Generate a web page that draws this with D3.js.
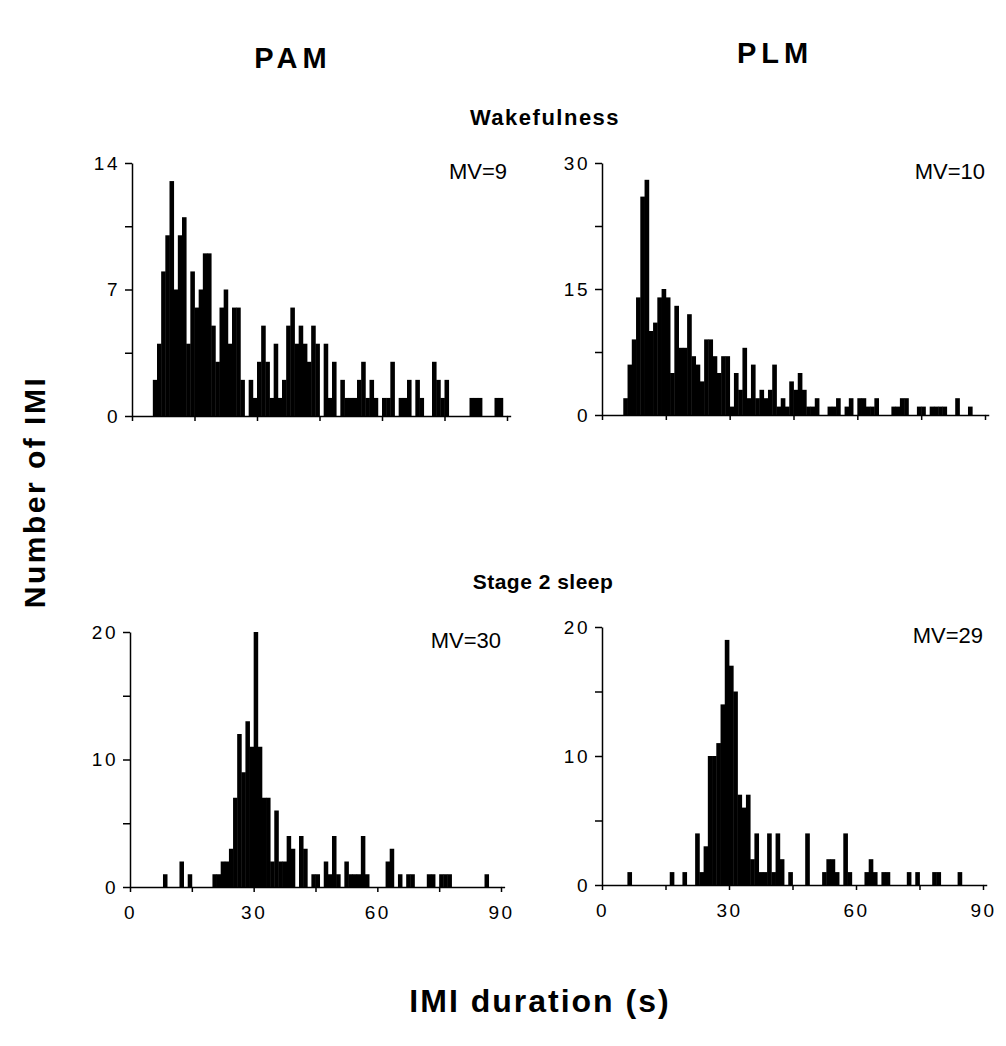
<!DOCTYPE html>
<html>
<head>
<meta charset="utf-8">
<script src="https://cdn.jsdelivr.net/npm/d3@7"></script>
<style>
  body { margin: 0; background: #fff; }
  text { font-family: "Liberation Sans", Arial, sans-serif; fill: #000; }
</style>
</head>
<body>
<div id="chart"></div>
<script>
// counts per 1 s bin, bins 0..89 s
var pamWake = [
  0, 0, 0, 0, 0, 2, 4, 8, 10, 13,
  7, 10, 11, 4, 8, 6, 7, 9, 9, 5,
  3, 6, 7, 4, 6, 6, 2, 0, 2, 1,
  3, 5, 3, 1, 4, 1, 2, 5, 6, 4,
  5, 4, 3, 5, 4, 0, 4, 1, 3, 0,
  2, 1, 1, 1, 2, 3, 1, 2, 1, 0,
  1, 1, 3, 0, 1, 1, 2, 0, 2, 1,
  0, 0, 3, 2, 1, 2, 0, 0, 0, 0,
  0, 1, 1, 1, 0, 0, 0, 1, 1, 0
];
var plmWake = [
  0, 0, 0, 0, 0, 2, 6, 9, 14, 26,
  28, 10, 11, 14, 15, 14, 5, 13, 8, 8,
  12, 7, 6, 4, 9, 9, 7, 5, 7, 7,
  1, 5, 3, 8, 2, 6, 2, 3, 2, 3,
  6, 1, 2, 1, 4, 3, 5, 3, 1, 1,
  2, 0, 0, 1, 1, 2, 0, 1, 2, 0,
  2, 2, 1, 1, 2, 0, 0, 0, 1, 1,
  2, 2, 0, 0, 1, 1, 0, 1, 1, 1,
  1, 0, 0, 2, 0, 0, 1, 0, 0, 0
];
var pamStage2 = [
  0, 0, 0, 0, 0, 0, 0, 0, 1, 0,
  0, 0, 2, 0, 1, 0, 0, 0, 0, 0,
  1, 1, 2, 2, 3, 7, 12, 9, 13, 11,
  20, 11, 7, 7, 2, 6, 2, 2, 4, 3,
  0, 4, 3, 0, 1, 1, 0, 2, 1, 4,
  1, 0, 2, 1, 1, 1, 4, 1, 0, 0,
  0, 0, 2, 3, 0, 1, 0, 1, 1, 0,
  0, 0, 1, 1, 0, 1, 1, 1, 0, 0,
  0, 0, 0, 0, 0, 0, 1, 0, 0, 0
];
var plmStage2 = [
  0, 0, 0, 0, 0, 0, 1, 0, 0, 0,
  0, 0, 0, 0, 0, 0, 1, 0, 0, 1,
  0, 0, 4, 1, 3, 10, 10, 11, 14, 19,
  17, 15, 7, 6, 7, 2, 4, 1, 1, 4,
  1, 4, 2, 0, 1, 0, 0, 0, 4, 0,
  0, 0, 1, 2, 2, 1, 0, 4, 1, 0,
  0, 0, 1, 2, 1, 0, 1, 1, 0, 0,
  0, 0, 1, 0, 1, 0, 0, 0, 1, 1,
  0, 0, 0, 0, 1, 0, 0, 0, 0, 0
];

var xTicks = [0, 15, 30, 45, 60, 75, 90];
var xTickLabels = [0, 30, 60, 90];
var mvLabels = ["MV=9", "MV=10", "MV=30", "MV=29"];
var yMaxes = [14, 30, 20, 20];
var groupTitles = ["PAM", "PLM"];
var stateTitles = ["Wakefulness", "Stage 2 sleep"];

var width = 1006;
var height = 1046;

var svg = d3.select("#chart")
  .append("svg")
  .attr("width", width)
  .attr("height", height);

// panel frames (pixel layout)
var panels = [
  { data: pamWake,   left: 132, right: 507, top: 163, bottom: 416, showX: false },
  { data: plmWake,   left: 602, right: 985, top: 163, bottom: 415, showX: false },
  { data: pamStage2, left: 130, right: 501, top: 632, bottom: 887, showX: true },
  { data: plmStage2, left: 602, right: 983, top: 627, bottom: 885, showX: true }
];

panels.forEach(function(p, i) {
  var yMax = yMaxes[i];
  var x = d3.scaleLinear().domain([0, 90]).range([p.left, p.right]);
  var y = d3.scaleLinear().domain([0, yMax]).range([p.bottom, p.top]);

  var g = svg.append("g");

  // bars
  g.selectAll("rect")
    .data(p.data.map(function(v, s) { return { s: s, v: v }; })
      .filter(function(d) { return d.v > 0; }))
    .enter().append("rect")
    .attr("x", function(d) { return x(d.s); })
    .attr("width", function(d) { return x(d.s + 1) - x(d.s) + 0.4; })
    .attr("y", function(d) { return y(d.v); })
    .attr("height", function(d) { return y(0) - y(d.v); })
    .attr("fill", "#000");

  // y axis
  var yAxis = d3.axisLeft(y)
    .tickValues([0, yMax / 4, yMax / 2, yMax * 3 / 4, yMax])
    .tickSize(7)
    .tickSizeOuter(0)
    .tickPadding(5)
    .tickFormat(function(d) {
      return (d === 0 || d === yMax / 2 || d === yMax) ? d : "";
    });

  var ya = g.append("g")
    .attr("transform", "translate(" + p.left + ",0)")
    .call(yAxis);
  ya.selectAll("text")
    .style("font-size", "19px")
    .style("letter-spacing", "2.5px")
    .style("font-family", "'Liberation Sans', Arial, sans-serif");

  // x axis
  var xAxis = d3.axisBottom(x)
    .tickValues(xTicks)
    .tickSize(5)
    .tickSizeOuter(0)
    .tickPadding(14)
    .tickFormat(function(d) {
      return (p.showX && xTickLabels.indexOf(d) >= 0) ? d : "";
    });

  var xa = g.append("g")
    .attr("transform", "translate(0," + p.bottom + ")")
    .call(xAxis);
  xa.selectAll("text")
    .style("font-size", "19px")
    .style("letter-spacing", "2.5px")
    .style("font-family", "'Liberation Sans', Arial, sans-serif");

  // baseline runs a little past 90 s
  g.append("line")
    .attr("x1", x(90)).attr("x2", x(91))
    .attr("y1", p.bottom + 0.5).attr("y2", p.bottom + 0.5)
    .attr("stroke", "#000")
    .attr("stroke-width", 1.5);

  g.selectAll(".domain, .tick line").attr("stroke", "#000").attr("stroke-width", 1.5);

  g.append("text")
    .attr("x", x(90))
    .attr("y", p.top + 16)
    .attr("text-anchor", "end")
    .style("font-size", "22px")
    .text(mvLabels[i]);
});

// titles
svg.append("text")
  .attr("x", 293).attr("y", 68)
  .attr("text-anchor", "middle")
  .style("font-size", "29px").style("font-weight", "bold").style("letter-spacing", "5px")
  .text(groupTitles[0]);

svg.append("text")
  .attr("x", 775).attr("y", 63)
  .attr("text-anchor", "middle")
  .style("font-size", "29px").style("font-weight", "bold").style("letter-spacing", "5px")
  .text(groupTitles[1]);

svg.append("text")
  .attr("x", 545).attr("y", 125)
  .attr("text-anchor", "middle")
  .style("font-size", "22px").style("font-weight", "bold").style("letter-spacing", "1.5px")
  .text(stateTitles[0]);

svg.append("text")
  .attr("x", 543).attr("y", 589)
  .attr("text-anchor", "middle")
  .style("font-size", "21px").style("font-weight", "bold").style("letter-spacing", "0.5px")
  .text(stateTitles[1]);

svg.append("text")
  .attr("transform", "translate(45,492) rotate(-90)")
  .attr("text-anchor", "middle")
  .style("font-size", "30px").style("font-weight", "bold").style("letter-spacing", "2.5px")
  .text("Number of IMI");

svg.append("text")
  .attr("x", 540).attr("y", 1012)
  .attr("text-anchor", "middle")
  .style("font-size", "32px").style("font-weight", "bold").style("letter-spacing", "2px")
  .text("IMI duration (s)");
</script>
</body>
</html>
